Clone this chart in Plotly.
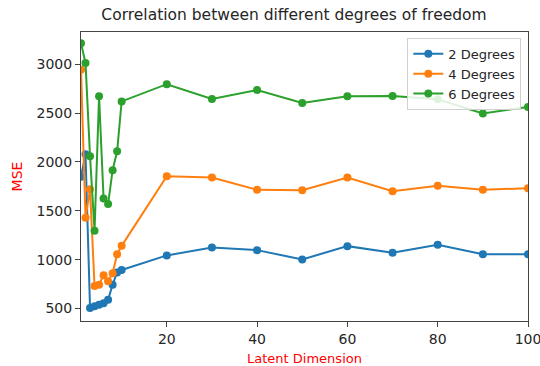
import plotly.graph_objects as go

latent_dim = [1, 2, 3, 4, 5, 6, 7, 8, 9, 10, 20, 30, 40, 50, 60, 70, 80, 90, 100]
mse_2deg = [1850, 2080, 505, 525, 540, 555, 590, 745, 870, 895,
            1044, 1126, 1098, 1003, 1139, 1071, 1153, 1057, 1057]
mse_4deg = [2945, 1430, 1720, 730, 745, 840, 780, 862, 1057, 1142,
            1855, 1841, 1715, 1712, 1841, 1701, 1756, 1715, 1732]
mse_6deg = [3215, 3013, 2059, 1296, 2672, 1627, 1569, 1916, 2110, 2620,
            2796, 2645, 2737, 2604, 2673, 2676, 2642, 2496, 2563]

series = [("2 Degrees", mse_2deg, "#1f77b4"),
          ("4 Degrees", mse_4deg, "#ff7f0e"),
          ("6 Degrees", mse_6deg, "#2ca02c")]

x_ticks = [20, 40, 60, 80, 100]
y_ticks = [500, 1000, 1500, 2000, 2500, 3000]

FONT = "DejaVu Sans"

fig = go.Figure()
for name, vals, color in series:
    fig.add_trace(go.Scatter(
        x=latent_dim, y=vals, name=name, mode="lines+markers",
        line=dict(color=color, width=2),
        marker=dict(color=color, size=8),
    ))

fig.update_layout(
    width=540, height=366,
    margin=dict(l=81, r=12, t=32, b=45),
    paper_bgcolor="white", plot_bgcolor="white",
    font=dict(family=FONT, size=14, color="#262626"),
    title=dict(text="Correlation between different degrees of freedom",
               x=294 / 540, xanchor="center", y=1 - 15 / 366, yanchor="middle",
               xref="container", yref="container",
               font=dict(size=15.5, color="#262626")),
    showlegend=True,
    legend=dict(x=0.985, xanchor="right", y=0.98, yanchor="top",
                bgcolor="rgba(255,255,255,0.85)", bordercolor="#d0d0d0",
                borderwidth=1, font=dict(size=13, color="#262626"),
                tracegroupgap=0, itemwidth=30),
    xaxis=dict(range=[1, 100], tickvals=x_ticks, showgrid=False, zeroline=False,
               showline=True, linecolor="#444", linewidth=1, mirror=True,
               ticks="outside", ticklen=5, tickcolor="#444",
               ticklabeloverflow="allow", automargin=False,
               tickfont=dict(size=14, color="#262626"),
               title=dict(text="Latent Dimension", standoff=14,
                          font=dict(size=13, color="red"))),
    yaxis=dict(range=[373, 3330], tickvals=y_ticks, showgrid=False, zeroline=False,
               showline=True, linecolor="#444", linewidth=1, mirror=True,
               ticks="outside", ticklen=5, tickcolor="#444", automargin=False,
               tickfont=dict(size=14, color="#262626"),
               title=dict(text="MSE", standoff=10,
                          font=dict(size=14, color="red"))),
)

fig.write_html("out.html")
